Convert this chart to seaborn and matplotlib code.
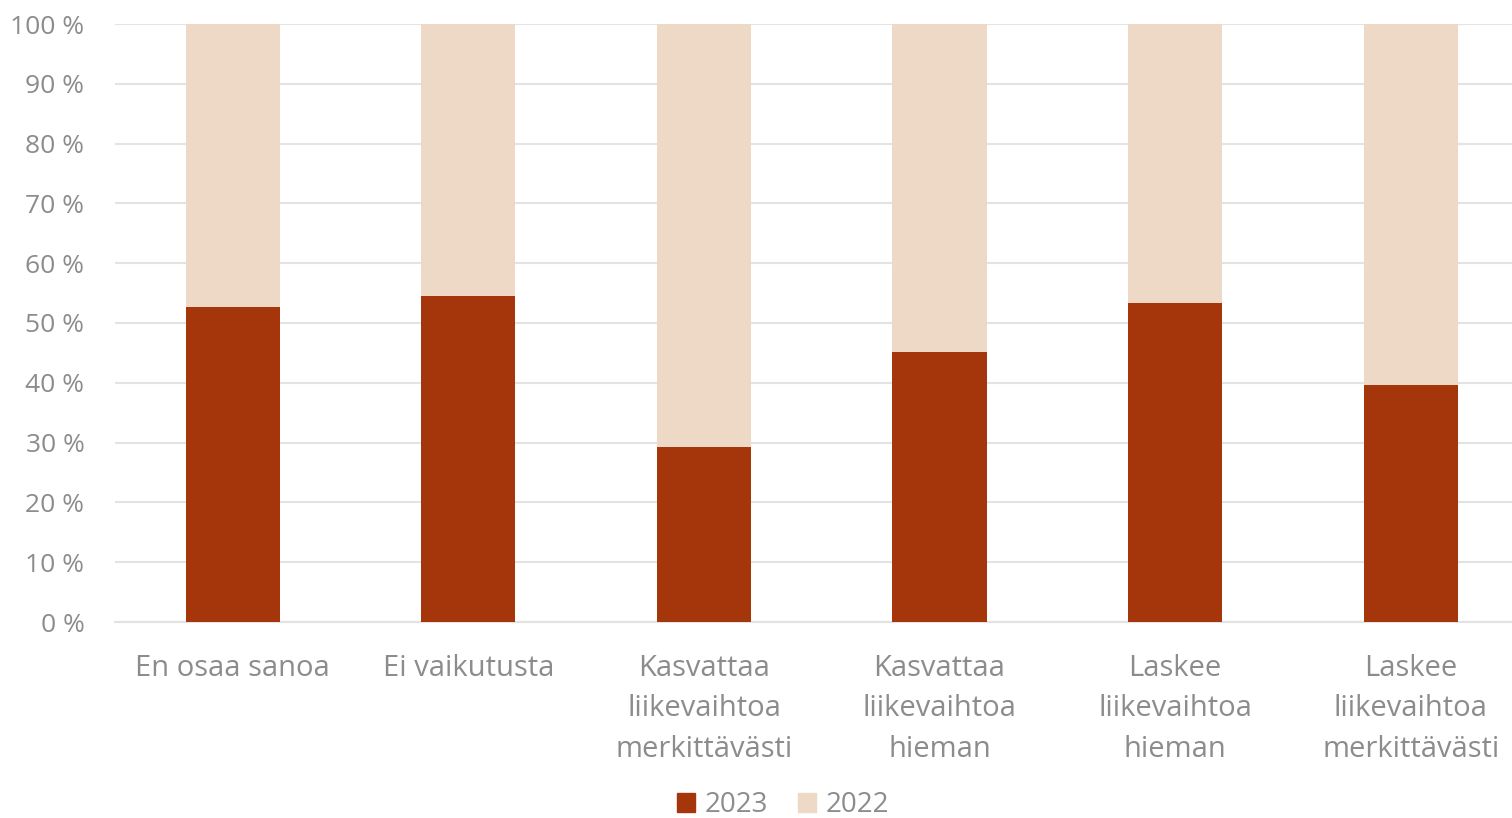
import matplotlib
matplotlib.use("Agg")
import matplotlib.pyplot as plt
import seaborn as sns
import pandas as pd
from matplotlib.patches import Patch
from matplotlib.ticker import FuncFormatter

categories = ["En osaa sanoa", "Ei vaikutusta", "Kasvattaa\nliikevaihtoa\nmerkittävästi",
              "Kasvattaa\nliikevaihtoa\nhieman", "Laskee\nliikevaihtoa\nhieman",
              "Laskee\nliikevaihtoa\nmerkittävästi"]
share_2023 = [52.7, 54.5, 29.3, 45.2, 53.3, 39.6]
share_2022 = [47.3, 45.5, 70.7, 54.8, 46.7, 60.4]

c2023 = "#A5350A"
c2022 = "#EDD9C5"
grey = "#8C8C8C"

sns.set_theme(style="white")
plt.rcParams["font.family"] = ["Open Sans", "DejaVu Sans"]

df = pd.DataFrame({"cat": categories, "y2023": share_2023, "y2022": share_2022})
df["total"] = df["y2023"] + df["y2022"]

fig = plt.figure(figsize=(15.12, 8.18), dpi=100)
ax = fig.add_axes([115 / 1512, 196 / 818, 1397 / 1512, 598 / 818])

sns.barplot(data=df, x="cat", y="total", color=c2022, width=0.4, saturation=1,
            linewidth=0, ax=ax, zorder=2)
sns.barplot(data=df, x="cat", y="y2023", color=c2023, width=0.4, saturation=1,
            linewidth=0, ax=ax, zorder=3)

ax.set_ylim(0, 100)
ax.set_xlim(-0.5, 5.43)
ax.set_yticks(range(0, 101, 10))
ax.yaxis.set_major_formatter(FuncFormatter(lambda v, p: f"{int(v)} %"))
ax.grid(axis="y", color="#E3E3E3", linewidth=1.5, zorder=0)
ax.set_axisbelow(True)
for s in ["top", "right", "left"]:
    ax.spines[s].set_visible(False)
ax.spines["bottom"].set_color("#E3E3E3")
ax.spines["bottom"].set_linewidth(1.5)
ax.set_xlabel("")
ax.set_ylabel("")
ax.tick_params(axis="y", length=0, pad=22, labelsize=19, labelcolor=grey)
ax.tick_params(axis="x", length=0, pad=23, labelsize=21, labelcolor=grey)
for lbl in ax.get_xticklabels():
    lbl.set_linespacing(1.52)

handles = [Patch(color=c2023, label="2023"), Patch(color=c2022, label="2022")]
leg = fig.legend(handles=handles, loc="center", bbox_to_anchor=(783 / 1512, 1 - 805 / 818),
                 ncol=2, frameon=False, fontsize=20, handlelength=0.65, handleheight=0.65,
                 handletextpad=0.35, columnspacing=1.1)
for t in leg.get_texts():
    t.set_color(grey)

fig.savefig("out.png", dpi=100)
